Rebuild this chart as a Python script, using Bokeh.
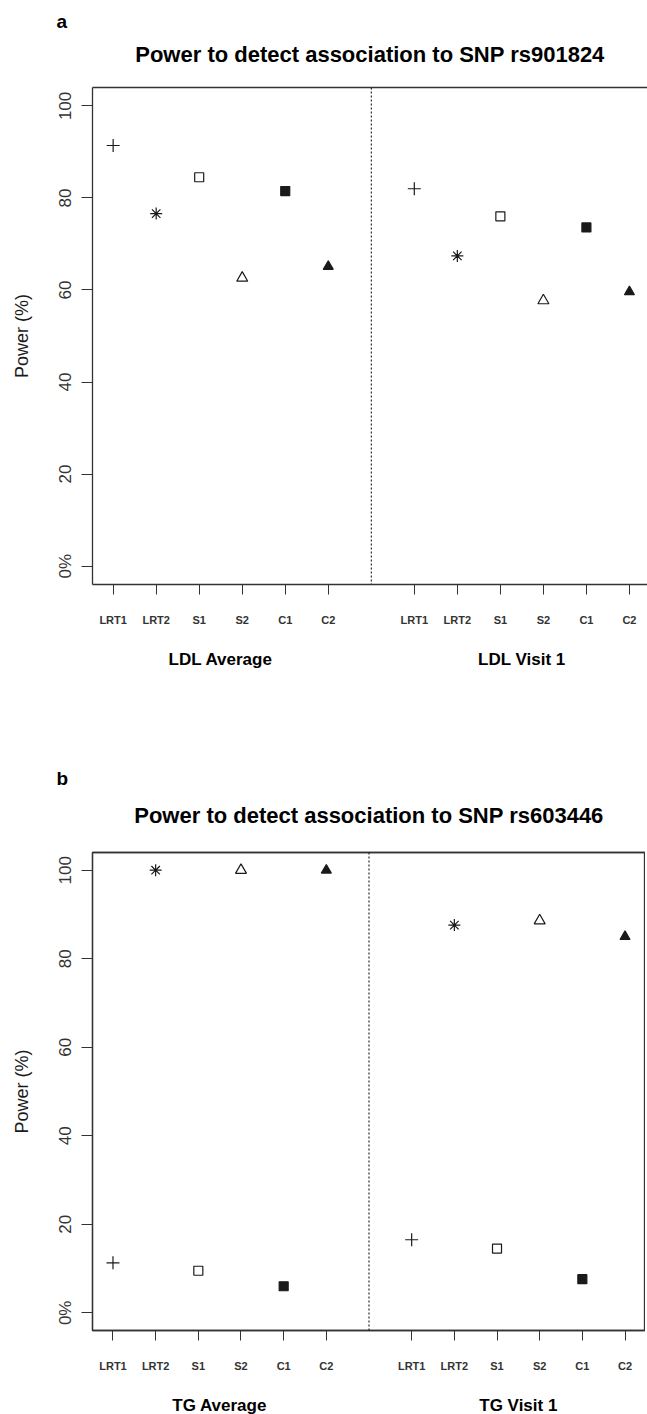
from bokeh.plotting import figure
from bokeh.models import LinearAxis, FixedTicker, Span, Title, ColumnDataSource, Range1d
from bokeh.layouts import column
from bokeh.embed import file_html
from bokeh.resources import INLINE

# ---- data ----
tests = ["LRT1", "LRT2", "S1", "S2", "C1", "C2"]
ldl_average = [91.4, 76.6, 84.5, 62.6, 81.5, 65.1]
ldl_visit1 = [82.0, 67.4, 76.0, 57.7, 73.6, 59.6]
tg_average = [11.3, 100.0, 9.5, 100.0, 6.0, 100.0]
tg_visit1 = [16.5, 87.6, 14.5, 88.6, 7.6, 85.0]
y_ticks = [0, 20, 40, 60, 80, 100]
y_tick_labels = ["0%", "20", "40", "60", "80", "100"]
groups_a = ["LDL Average", "LDL Visit 1"]
groups_b = ["TG Average", "TG Visit 1"]

# ---- styles ----
markers = ["cross", "asterisk", "square", "triangle", "square", "triangle"]
filled = [False, False, False, False, True, True]
msizes = [13, 12, 9, 11, 9, 10]
FONT = "Liberation Sans"
INK = "#1a1a1a"


def make_panel(letter, title, vals1, vals2, groups, x_end, frame_width, frame_height,
               min_top, min_bottom, title_standoff, letter_standoff, group_standoff,
               outline):
    n = len(tests)
    x1 = [i + 1 for i in range(n)]
    x2 = [i + n + 2 for i in range(n)]
    divider = n + 1

    p = figure(frame_width=frame_width, frame_height=frame_height,
               x_range=Range1d(0.52, x_end), y_range=Range1d(-4, 104),
               output_backend="svg", toolbar_location=None,
               min_border_left=92, min_border_right=0,
               min_border_top=min_top, min_border_bottom=min_bottom,
               background_fill_color="white", border_fill_color="white")
    p.grid.visible = False
    p.outline_line_color = "#333333" if outline else None
    p.outline_line_width = 1.3

    # y axis
    ya = p.yaxis[0]
    ya.ticker = FixedTicker(ticks=y_ticks)
    ya.major_label_overrides = {t: s for t, s in zip(y_ticks, y_tick_labels)}
    ya.major_label_orientation = "vertical"
    ya.minor_tick_line_color = None
    ya.major_tick_in = 0
    ya.major_tick_out = 11
    ya.major_tick_line_color = "#333333"
    ya.axis_line_color = "#333333"
    ya.axis_line_width = 1.3
    ya.major_label_text_font = FONT
    ya.major_label_text_font_size = "17px"
    ya.major_label_text_color = "#333333"
    ya.major_label_standoff = 6
    ya.axis_label = "Power (%)"
    ya.axis_label_text_font = FONT
    ya.axis_label_text_font_size = "18px"
    ya.axis_label_text_font_style = "normal"
    ya.axis_label_text_color = INK
    ya.axis_label_standoff = 22

    # x axis (tests)
    xa = p.xaxis[0]
    xa.ticker = FixedTicker(ticks=x1 + x2)
    labs = {}
    for i in range(n):
        labs[x1[i]] = tests[i]
        labs[x2[i]] = tests[i]
    xa.major_label_overrides = labs
    xa.minor_tick_line_color = None
    xa.major_tick_in = 0
    xa.major_tick_out = 10
    xa.major_tick_line_color = "#333333"
    xa.axis_line_color = "#333333"
    xa.axis_line_width = 1.3
    xa.major_label_text_font = FONT
    xa.major_label_text_font_style = "bold"
    xa.major_label_text_font_size = "11px"
    xa.major_label_text_color = "#333333"
    xa.major_label_standoff = 19

    # group labels axis
    centers = [(x1[0] + x1[-1]) / 2, (x2[0] + x2[-1]) / 2]
    ga = LinearAxis(ticker=FixedTicker(ticks=centers),
                    major_label_overrides={c: g for c, g in zip(centers, groups)},
                    axis_line_color=None, major_tick_line_color=None,
                    minor_tick_line_color=None, major_tick_out=0, major_tick_in=0,
                    major_label_standoff=group_standoff,
                    major_label_text_font=FONT, major_label_text_font_style="bold",
                    major_label_text_font_size="17px", major_label_text_color="black")
    p.add_layout(ga, "below")

    # top border
    ta = LinearAxis(ticker=FixedTicker(ticks=[]), axis_line_color="#333333",
                    axis_line_width=1.3, major_tick_line_color=None,
                    minor_tick_line_color=None, major_label_text_font_size="0px")
    p.add_layout(ta, "above")

    # titles
    p.add_layout(Title(text=title, align="center", text_font=FONT,
                       text_font_style="bold", text_font_size="22px",
                       text_color="black", standoff=title_standoff), "above")
    p.add_layout(Title(text=letter, align="left", offset=-36,
                       text_font=FONT, text_font_style="bold",
                       text_font_size="19px", text_color="black",
                       standoff=letter_standoff), "above")

    # divider
    p.add_layout(Span(location=divider, dimension="height", line_color="black",
                      line_width=1, line_dash="2 2"))

    for i in range(n):
        src = ColumnDataSource(dict(x=[x1[i], x2[i]], y=[vals1[i], vals2[i]]))
        p.scatter("x", "y", source=src, marker=markers[i], size=msizes[i],
                  line_color=INK, line_width=1.2,
                  fill_color=INK if filled[i] else None)
    return p


pa = make_panel("a", "Power to detect association to SNP rs901824",
                ldl_average, ldl_visit1, groups_a, 13.42, 555, 497,
                87, 120, 41, -24, 21, False)
pb = make_panel("b", "Power to detect association to SNP rs603446",
                tg_average, tg_visit1, groups_b, 13.48, 553, 478,
                148, 0, 49, -24, 21, True)

layout = column(pa, pb, spacing=0)
open("out.html", "w").write(file_html(layout, INLINE))
